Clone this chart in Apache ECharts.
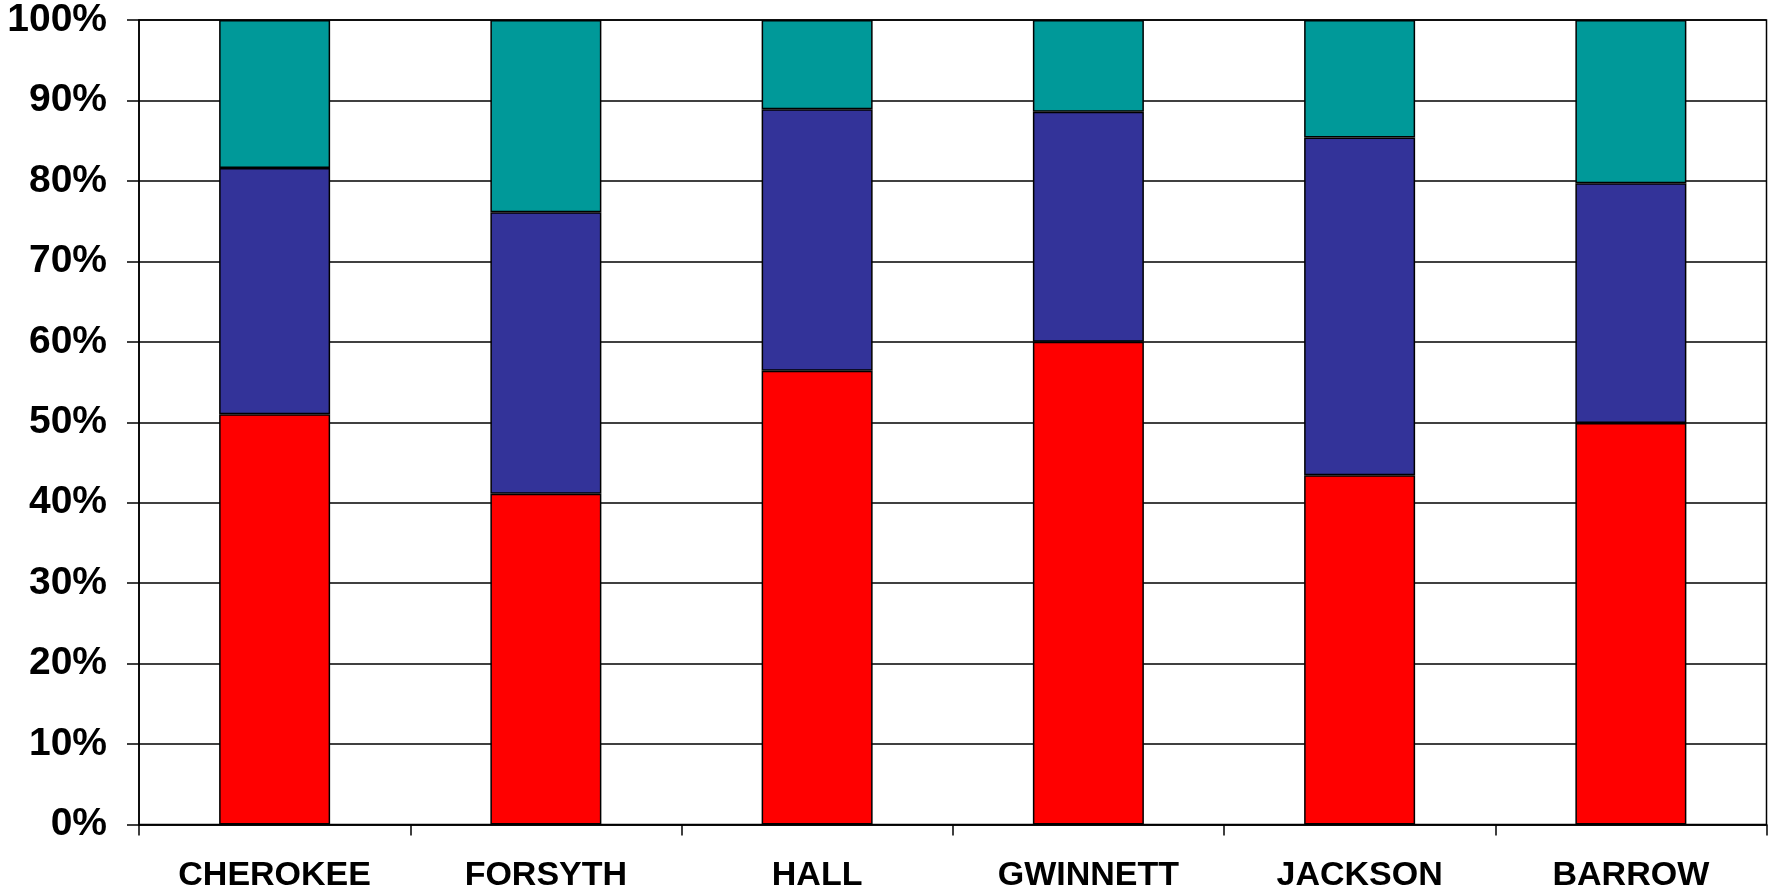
<!DOCTYPE html>
<html>
<head>
<meta charset="utf-8">
<title>County shares</title>
<script src="https://cdn.jsdelivr.net/npm/echarts@6/dist/echarts.min.js"></script>
<style>
  html, body { margin: 0; padding: 0; background: #ffffff; }
  #chart { width: 1769px; height: 894px; }
</style>
</head>
<body>
<div id="chart"></div>
<script>
// Counties along the category axis
const counties = ['CHEROKEE', 'FORSYTH', 'HALL', 'GWINNETT', 'JACKSON', 'BARROW'];

// Stacked shares (percent), bottom to top
const lowerShare  = [51.0, 41.1, 56.4, 60.0, 43.4, 49.9];
const middleShare = [30.6, 35.0, 32.5, 28.6, 42.0, 29.8];
const upperShare  = [18.4, 23.9, 11.1, 11.4, 14.6, 20.3];

// Value axis ticks
const yMin = 0, yMax = 100, yStep = 10;

const chart = echarts.init(document.getElementById('chart'), null, { renderer: 'canvas' });

const barStyle = (color) => ({
  color: color,
  borderColor: '#000000',
  borderWidth: 1.5
});

chart.setOption({
  animation: false,
  backgroundColor: '#ffffff',
  grid: {
    left: 139,
    right: 2.5,
    top: 20,
    bottom: 69.5,
    show: true,
    borderColor: '#000000',
    borderWidth: 1.5,
    backgroundColor: 'transparent'
  },
  xAxis: {
    type: 'category',
    data: counties,
    boundaryGap: true,
    axisLine: { show: true, lineStyle: { color: '#000000', width: 1.5 } },
    axisTick: { show: true, length: 11, lineStyle: { color: '#000000', width: 1.5 } },
    axisLabel: {
      margin: 34,
      color: '#000000',
      fontFamily: 'Liberation Sans, Arial, sans-serif',
      fontWeight: 'bold',
      fontSize: 34
    },
    splitLine: { show: false }
  },
  yAxis: {
    type: 'value',
    min: yMin,
    max: yMax,
    interval: yStep,
    axisLine: { show: true, lineStyle: { color: '#000000', width: 1.5 } },
    axisTick: { show: true, length: 12, lineStyle: { color: '#000000', width: 1.5 } },
    axisLabel: {
      margin: 32,
      color: '#000000',
      fontFamily: 'Liberation Sans, Arial, sans-serif',
      fontWeight: 'bold',
      fontSize: 39,
      formatter: '{value}%'
    },
    splitLine: { show: true, lineStyle: { color: '#000000', width: 1.5 } }
  },
  series: [
    {
      name: 'lower',
      type: 'bar',
      stack: 'share',
      barWidth: 111,
      data: lowerShare,
      itemStyle: barStyle('#FF0000')
    },
    {
      name: 'middle',
      type: 'bar',
      stack: 'share',
      barWidth: 111,
      data: middleShare,
      itemStyle: barStyle('#333399')
    },
    {
      name: 'upper',
      type: 'bar',
      stack: 'share',
      barWidth: 111,
      data: upperShare,
      itemStyle: barStyle('#009999')
    }
  ]
});
</script>
</body>
</html>
